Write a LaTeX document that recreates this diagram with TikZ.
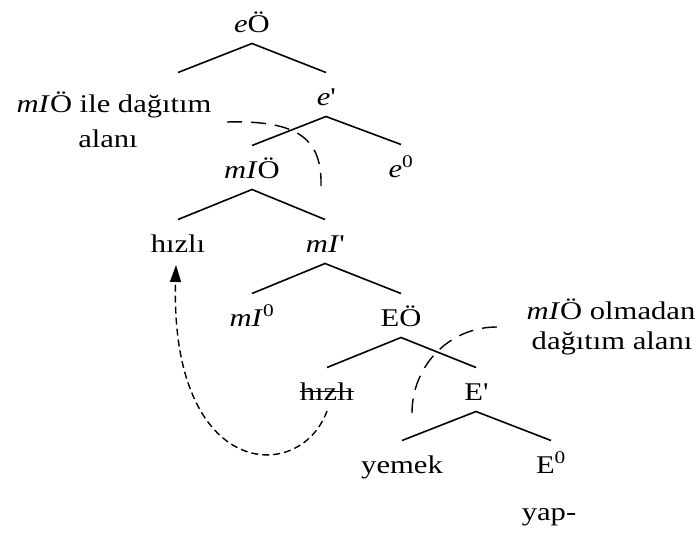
\documentclass[tikz,border=0pt]{standalone}
\usepackage{fontspec}
\setmainfont{Liberation Serif}[FakeStretch=1.2]
\usetikzlibrary{arrows.meta}
\newcommand\tick{\textquotesingle}
% parent-to-children branch of the tree
\newcommand\branchpair[3]{%
  \draw[branch] ([yshift=32.5pt]#2.base) -- ([yshift=-11.5pt]#1.base) -- ([yshift=32.5pt]#3.base);}
\begin{document}
\begin{tikzpicture}[x=1pt,y=-1pt,
  lbl/.style={inner sep=0pt, anchor=base, font=\fontsize{25.5}{30}\selectfont},
  branch/.style={line width=1.6pt},
  zoneline/.style={line width=1.4pt, dash pattern=on 15pt off 9pt},
  moveline/.style={line width=1.4pt, dash pattern=on 7pt off 4pt,
               -{Triangle[length=17pt,width=11pt]}}]
\useasboundingbox (0,0) rectangle (699,533);

% tree nodes, placed by their baselines
\node[lbl] (eO)  at (252,32)  {\textit{e}Ö};
\coordinate (eSpec) at (178,105);
\node[lbl] (ep)  at (326,105) {\textit{e}\tick};
\node[lbl] (mIO) at (252,178) {\textit{mI}Ö};
\node[lbl] (e0)  at (401,177) {\textit{e}\textsuperscript{0}};
\node[lbl] (hz)  at (178,252) {hızlı};
\node[lbl] (mIp) at (325,252) {\textit{mI}\tick};
\node[lbl] (mI0) at (252,326) {\textit{mI}\textsuperscript{0}};
\node[lbl] (EO)  at (401,326) {EÖ};
\node[lbl] (hs)  at (327,400) {hızlı};
\node[lbl] (Ep)  at (476,400) {E\tick};
\node[lbl] (yem) at (402,473) {yemek};
\node[lbl] (E0)  at (551,473) {E\textsuperscript{0}};
\node[lbl] (yap) at (549,520) {yap-};

% domain labels
\node[lbl] (domA1) at (114,112) {\textit{mI}Ö ile dağıtım};
\node[lbl] (domA2) at (108,147) {alanı};
\node[lbl] (domB1) at (611,319) {\textit{mI}Ö olmadan};
\node[lbl] (domB2) at (612,349) {dağıtım alanı};

% branches
\branchpair{eO}{eSpec}{ep}
\branchpair{ep}{mIO}{e0}
\branchpair{mIO}{hz}{mIp}
\branchpair{mIp}{mI0}{EO}
\branchpair{EO}{hs}{Ep}
\branchpair{Ep}{yem}{E0}

% struck-out lower copy
\draw[line width=1.3pt] (hs.west) -- (hs.east);

% domain boundaries
\draw[zoneline] (227,122) .. controls (300,120) and (322,140) .. (321,186);
\draw[zoneline] (497,327) .. controls (449,327) and (412,366) .. (412,413);

% movement
\draw[moveline] ([yshift=-11pt]hs.base) .. controls (300,485) and (170,480) .. ([xshift=-2pt,yshift=-13pt]hz.base);
\end{tikzpicture}
\end{document}
